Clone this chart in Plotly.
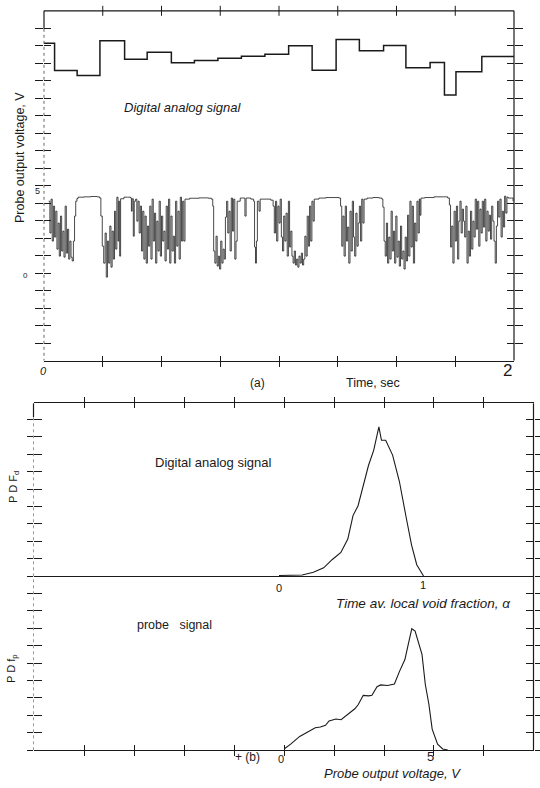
import plotly.graph_objects as go

W, H = 540, 788
INK = "#1a1a1a"
FONT = "Liberation Sans"

# ---------------- Panel (a): time records ----------------
time_ticks = [0.25, 0.5, 0.75, 1.0, 1.25, 1.5, 1.75]
volt_ticks_a = [-4, -3, -2, -1, 0, 1, 2, 3, 4, 5, 6, 7, 8, 9, 10, 11, 12, 13, 14]

# probe signal (time in s, output in V)
probe_t = [
    0.020, 0.025, 0.030, 0.035, 0.040, 0.045, 0.050, 0.055, 0.060, 0.065, 0.070, 0.075, 0.080,
    0.085, 0.090, 0.095, 0.100, 0.105, 0.110, 0.115, 0.120, 0.125, 0.130, 0.135, 0.140, 0.145,
    0.170, 0.200, 0.225, 0.236, 0.242, 0.248, 0.254,
    0.260, 0.265, 0.270, 0.275, 0.280, 0.285, 0.290, 0.295, 0.300, 0.305, 0.310, 0.315, 0.318, 0.322,
    0.326, 0.340, 0.355, 0.368, 0.372, 0.375, 0.380, 0.384,
    0.390, 0.395, 0.400, 0.405, 0.410, 0.415, 0.420, 0.425, 0.430, 0.435, 0.440, 0.445, 0.450,
    0.455, 0.460, 0.465, 0.470, 0.475, 0.480, 0.485, 0.490, 0.495, 0.500, 0.505, 0.510, 0.515,
    0.520, 0.525, 0.530, 0.535, 0.540, 0.545, 0.550, 0.555, 0.560, 0.565, 0.570, 0.575, 0.580,
    0.585, 0.590, 0.595, 0.600,
    0.620, 0.660, 0.700, 0.712, 0.718,
    0.722, 0.727, 0.732, 0.737, 0.742, 0.747, 0.752, 0.757, 0.762, 0.767, 0.772, 0.777, 0.782,
    0.787, 0.792, 0.797, 0.802, 0.807, 0.812, 0.817, 0.822,
    0.835, 0.850, 0.855, 0.860, 0.880, 0.892, 0.896, 0.900, 0.904, 0.908, 0.915, 0.920, 0.945,
    0.965, 0.975,
    0.980, 0.985, 0.990, 0.995, 1.000, 1.005, 1.010, 1.015, 1.020, 1.025, 1.030, 1.035, 1.040,
    1.045, 1.050, 1.055, 1.060, 1.065, 1.070, 1.075, 1.080, 1.085, 1.090, 1.095, 1.100, 1.105,
    1.110, 1.115, 1.120, 1.125, 1.130, 1.135, 1.140, 1.145, 1.150,
    1.170, 1.200, 1.230, 1.255, 1.262,
    1.267, 1.272, 1.277, 1.282, 1.287, 1.292, 1.297, 1.302, 1.307, 1.312, 1.317, 1.322, 1.327,
    1.332, 1.337, 1.342, 1.347, 1.352, 1.357, 1.362,
    1.375, 1.400, 1.425, 1.438, 1.442,
    1.447, 1.452, 1.457, 1.462, 1.467, 1.472, 1.477, 1.482, 1.487, 1.492, 1.497, 1.502, 1.507,
    1.512, 1.517, 1.522, 1.527, 1.532, 1.537, 1.542, 1.547, 1.552, 1.557, 1.562, 1.567, 1.572,
    1.577, 1.582, 1.587, 1.592, 1.597, 1.600, 1.604,
    1.620, 1.660, 1.700, 1.718, 1.725,
    1.730, 1.735, 1.740, 1.745, 1.750, 1.755, 1.760, 1.765, 1.770, 1.775, 1.780, 1.785, 1.790,
    1.795, 1.800, 1.805, 1.810, 1.815, 1.820, 1.825, 1.830, 1.835, 1.840, 1.845, 1.850, 1.855,
    1.860, 1.865, 1.870,
    1.875, 1.880, 1.885, 1.890, 1.895, 1.900, 1.905, 1.910, 1.915, 1.920, 1.925, 1.930, 1.935,
    1.940, 1.945, 1.950, 1.955, 1.960, 1.965, 1.970, 1.975, 1.990, 1.996,
]
probe_v = [
    4.11, 2.29, 4.23, 1.83, 3.83, 2.06, 3.54, 1.37, 2.86, 0.97, 3.26, 1.26, 2.40,
    0.91, 3.83, 1.14, 2.51, 0.80, 1.83, 0.91, 0.69, 1.83, 3.26, 4.11, 4.26, 4.34,
    4.36, 4.38, 4.36, 4.30, 3.26, 1.54, 0.57,
    2.29, -0.23, 1.83, 0.57, 2.69, 0.34, 2.40, 0.80, 3.54, 1.37, 4.34, 1.83, 4.11, 0.97,
    4.25, 4.34, 4.34, 4.30, 3.54, 4.25, 2.11, 4.11,
    4.23, 2.97, 4.11, 2.29, 3.83, 1.26, 3.54, 0.80, 3.26, 0.57, 2.69, 1.54, 3.83,
    0.80, 4.23, 1.83, 3.43, 0.57, 2.97, 1.26, 4.11, 0.97, 3.26, 1.83, 2.40, 0.69,
    3.83, 1.37, 4.23, 0.57, 3.26, 1.26, 2.11, 0.57, 4.11, 1.54, 3.54, 0.80, 4.34,
    1.83, 4.11, 1.83, 4.23,
    4.28, 4.30, 4.28, 4.23, 3.83,
    1.26, 0.57, 2.11, 0.40, 0.97, 0.23, 1.83, 0.57, 1.37, 0.80, 3.20, 4.11, 2.29,
    3.54, 1.26, 4.29, 2.40, 4.23, 0.80, 1.83, 4.11,
    4.29, 4.29, 3.26, 4.29, 4.23, 4.11, 1.49, 0.57, 1.83, 4.11, 3.54, 4.23, 4.23,
    4.17, 3.83,
    2.29, 4.11, 1.83, 3.83, 2.86, 4.23, 2.06, 1.26, 3.26, 1.83, 3.43, 0.97, 4.11,
    1.49, 2.40, 0.97, 0.57, 1.26, 0.46, 0.80, 0.34, 0.97, 0.57, 1.14, 0.46, 0.80,
    2.11, 0.97, 3.26, 1.54, 3.83, 1.83, 4.11, 2.97, 4.23,
    4.29, 4.32, 4.32, 4.29, 3.83,
    1.54, 3.26, 0.97, 3.83, 1.83, 2.63, 0.57, 3.54, 1.26, 4.11, 2.06, 0.97, 3.43,
    1.54, 2.86, 3.83, 1.83, 4.23, 2.86, 4.23,
    4.29, 4.32, 4.29, 4.23, 3.77,
    1.83, 0.97, 2.86, 0.57, 2.06, 0.80, 3.54, 1.26, 2.40, 0.57, 3.26, 0.91, 1.83,
    0.40, 2.69, 0.80, 1.26, 0.23, 2.06, 0.69, 3.31, 0.97, 4.11, 1.49, 3.83, 0.57,
    2.86, 1.83, 4.11, 2.29, 4.23, 3.31, 4.29,
    4.32, 4.36, 4.36, 4.29, 3.89,
    1.49, 2.69, 0.57, 3.54, 1.83, 3.83, 0.80, 2.97, 4.11, 2.29, 3.66, 2.97, 2.06,
    3.83, 0.57, 2.40, 0.97, 3.54, 1.37, 2.97, 2.06, 4.23, 2.51, 4.11, 1.54, 3.66,
    2.29, 4.11, 2.63,
    4.23, 1.83, 3.54, 2.40, 3.31, 1.94, 3.83, 2.97, 1.83, 0.57, 2.69, 4.11, 3.20,
    4.23, 2.06, 3.54, 2.63, 4.40, 3.43, 4.34, 4.29, 4.29, 4.11,
]
assert len(probe_t) == len(probe_v), (len(probe_t), len(probe_v))

# digital analog (D/A) signal: step edges (s) and held void-fraction levels
dac_t = [0.0, 0.045, 0.141, 0.238, 0.343, 0.439, 0.542, 0.640, 0.740, 0.840, 0.940,
         1.041, 1.141, 1.243, 1.342, 1.445, 1.540, 1.643, 1.704, 1.753, 1.863, 2.0]
dac_alpha = [0.803, 0.621, 0.587, 0.820, 0.696, 0.743, 0.673, 0.687, 0.703, 0.716, 0.730,
             0.786, 0.622, 0.827, 0.752, 0.788, 0.639, 0.675, 0.458, 0.612, 0.715]

# ---------------- Panel (b): probability density functions ----------------
volt_ticks_b = [-6.667, -5.0, -3.333, -1.667, 0.0, 1.667, 3.333, 5.0, 6.667]
pdf_ticks = list(range(0, 20))

pdf_dac_alpha = [0.00, 0.16, 0.238, 0.309, 0.369, 0.428, 0.476, 0.512, 0.547, 0.583, 0.619,
                 0.655, 0.679, 0.691, 0.709, 0.738, 0.786, 0.833, 0.881, 0.917, 0.953, 1.000]
pdf_dac = [0.03, 0.06, 0.21, 0.47, 0.95, 1.35, 2.12, 3.47, 4.04, 5.20, 6.35,
           7.22, 8.09, 8.57, 7.80, 7.80, 6.95, 5.43, 3.32, 1.79, 0.65, 0.00]

pdf_probe_volt = [0.00, 0.23, 0.52, 0.81, 1.04, 1.21, 1.38, 1.50, 1.73, 1.90, 2.13, 2.36,
                  2.47, 2.64, 2.82, 2.93, 3.10, 3.22, 3.45, 3.68, 3.85, 4.03, 4.14, 4.26,
                  4.37, 4.48, 4.60, 4.71, 4.83, 4.94, 5.12, 5.29, 5.46]
pdf_probe = [0.06, 0.35, 0.78, 1.07, 1.28, 1.32, 1.42, 1.67, 1.78, 1.74, 2.07, 2.37,
             2.60, 3.14, 3.11, 3.15, 3.64, 3.74, 3.71, 3.79, 4.52, 5.20, 6.06, 6.97,
             6.84, 6.26, 5.50, 3.78, 2.63, 1.20, 0.34, 0.06, 0.00]

# ---------------- layout geometry (pixels) ----------------
A_X0, A_X1, A_Y0, A_Y1 = 44, 514, 10.8, 360.5
B_X0, B_X1, B_Y0, B_Y1 = 33.5, 533.5, 403.3, 750.0
B_MID = 576.0
PDF_UNIT = 17.4


def fx(x):
    return x / W


def fy(y):
    return 1 - y / H


def tick_axis(**kw):
    base = dict(showgrid=False, zeroline=False, showticklabels=False, tickcolor=INK,
                tickwidth=1, type="linear", fixedrange=True, tickmode="array")
    base.update(kw)
    return base


fig = go.Figure()
fig.add_trace(go.Scatter(x=probe_t, y=probe_v, mode="lines",
                         line=dict(color=INK, width=0.8, shape="hv"),
                         xaxis="x", yaxis="y", hoverinfo="skip"))
fig.add_trace(go.Scatter(x=dac_t, y=dac_alpha + [dac_alpha[-1]], mode="lines",
                         line=dict(color=INK, width=1.5, shape="hv"),
                         xaxis="x", yaxis="y2", hoverinfo="skip"))
fig.add_trace(go.Scatter(x=pdf_probe_volt, y=pdf_probe, mode="lines",
                         line=dict(color=INK, width=1.1), xaxis="x3", yaxis="y4",
                         hoverinfo="skip"))
fig.add_trace(go.Scatter(x=pdf_dac_alpha, y=pdf_dac, mode="lines",
                         line=dict(color=INK, width=1.1), xaxis="x4", yaxis="y5",
                         hoverinfo="skip"))
for xa, ya in [("x2", "y"), ("x", "y3"), ("x5", "y4"), ("x3", "y6")]:
    fig.add_trace(go.Scatter(x=[None], y=[None], mode="lines", xaxis=xa, yaxis=ya,
                             hoverinfo="skip"))

a_yr = [-5, 15]
b_xr = [-8.36, 8.32]
b_yr = [0, (B_Y1 - B_Y0) / PDF_UNIT]
fig.update_layout(
    width=W, height=H, margin=dict(l=0, r=0, t=0, b=0),
    paper_bgcolor="white", plot_bgcolor="white", showlegend=False,
    font=dict(family=FONT, color=INK),
    # panel (a)
    xaxis=tick_axis(domain=[fx(A_X0), fx(A_X1)], range=[0, 2], anchor="y",
                    tickvals=time_ticks, ticks="outside", ticklen=5, showline=True,
                    linecolor=INK, linewidth=1.2),
    xaxis2=tick_axis(overlaying="x", anchor="y", range=[0, 2], tickvals=time_ticks,
                     ticks="inside", ticklen=5),
    yaxis=tick_axis(domain=[fy(A_Y1), fy(A_Y0)], range=a_yr, anchor="x",
                    tickvals=volt_ticks_a, ticks="outside", ticklen=8, mirror="ticks"),
    yaxis3=tick_axis(overlaying="y", anchor="x", range=a_yr, tickvals=volt_ticks_a,
                     ticks="inside", ticklen=7, mirror="ticks"),
    yaxis2=tick_axis(overlaying="y", anchor="x", range=[-1.313, 1.019], ticks="",
                     tickvals=[], showline=False),
    # panel (b)
    xaxis3=tick_axis(domain=[fx(B_X0), fx(B_X1)], range=b_xr, anchor="y4",
                     tickvals=volt_ticks_b, ticks="outside", ticklen=5, showline=True,
                     linecolor=INK, linewidth=1.2, mirror="ticks"),
    xaxis5=tick_axis(overlaying="x3", anchor="y4", range=b_xr, tickvals=volt_ticks_b,
                     ticks="inside", ticklen=5, mirror="ticks"),
    xaxis4=tick_axis(overlaying="x3", anchor="free", position=fy(B_MID),
                     range=[-1.699, 1.761], showline=True, linecolor=INK, linewidth=1.2,
                     ticks=""),
    yaxis4=tick_axis(domain=[fy(B_Y1), fy(B_Y0)], range=b_yr, anchor="x3",
                     tickvals=pdf_ticks, ticks="outside", ticklen=6, mirror="ticks"),
    yaxis6=tick_axis(overlaying="y4", anchor="x3", range=b_yr, tickvals=pdf_ticks,
                     ticks="inside", ticklen=8, mirror="ticks"),
    yaxis5=tick_axis(overlaying="y4", anchor="x3",
                     range=[-(B_Y1 - B_MID) / PDF_UNIT, (B_MID - B_Y0) / PDF_UNIT],
                     ticks="", tickvals=[], showline=False),
)


def vline(x, y0, y1, width=1.2, dash="solid", color=INK):
    return dict(type="line", xref="paper", yref="paper", x0=fx(x), x1=fx(x),
                y0=fy(y0), y1=fy(y1), line=dict(color=color, width=width, dash=dash))


shapes = [
    # panel (a) top border
    dict(type="line", xref="paper", yref="paper", x0=fx(A_X0), x1=fx(A_X1),
         y0=fy(A_Y0), y1=fy(A_Y0), line=dict(color=INK, width=1.2)),
    vline(A_X1, A_Y0, A_Y1),
    vline(A_X0, A_Y0, A_Y0 + 18),
    vline(A_X0, A_Y0 + 18, A_Y1, width=1, dash="dot", color="#666"),
    vline(B_X1, B_Y0, B_Y1),
    vline(B_X0, B_Y0, B_Y0 + 14),
    vline(B_X0, B_Y0 + 14, B_Y1, width=1, dash="dot", color="#999"),
]
# crossing tick marks on the top border of panel (a), placed on the time scale
for t in time_ticks:
    shapes.append(dict(type="line", xref="x", yref="paper", x0=t, x1=t,
                       y0=fy(A_Y0 - 5), y1=fy(A_Y0 + 5), line=dict(color=INK, width=1)))
fig.update_layout(shapes=shapes)


def ann(text, x, y, size=11, angle=0, italic=False):
    return dict(text=text, x=fx(x), y=fy(y), xref="paper", yref="paper",
                xanchor="center", yanchor="middle", showarrow=False, textangle=angle,
                font=dict(family=FONT, size=size, color=INK,
                          style="italic" if italic else "normal"))


fig.update_layout(annotations=[
    ann("Digital analog signal", 182, 107, 13, italic=True),
    ann("Probe output voltage, V", 20, 158, 12.5, angle=-90),
    ann("5", 37, 191, 9),
    ann("0", 25, 275, 8),
    ann("0", 43, 371, 11, italic=True),
    ann("2", 507, 371, 17),
    ann("(a)", 257, 383, 12),
    ann("Time, sec", 373, 383, 12.5),
    ann("Digital analog signal", 213, 462, 13),
    ann("P D F<sub>d</sub>", 14, 487, 11, angle=-90),
    ann("0", 279, 588, 11),
    ann("1", 423, 585, 11),
    ann("Time av. local void fraction, α", 423, 603, 13.5, italic=True),
    ann("probe   signal", 174, 625, 12.5),
    ann("P D f<sub>p</sub>", 12, 669, 11, angle=-90),
    ann("+ (b)", 247, 757, 12),
    ann("0", 281, 759, 11),
    ann("5", 430, 756, 13),
    ann("Probe output voltage, V", 392, 773, 13, italic=True),
])

fig.write_html("out.html", config={"displayModeBar": False})
